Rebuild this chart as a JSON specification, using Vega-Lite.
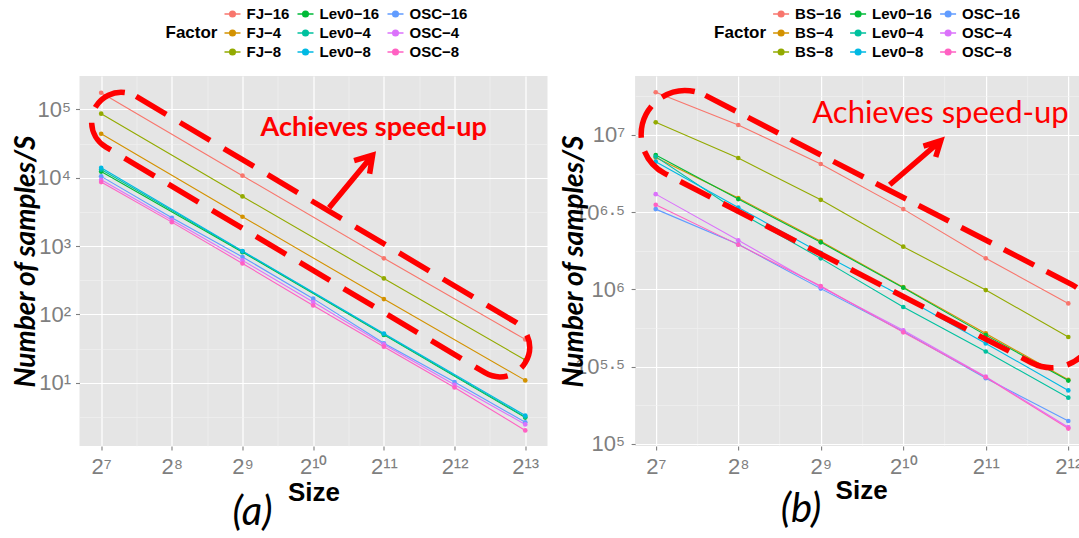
{
  "$schema": "https://vega.github.io/schema/vega-lite/v6.json",
  "background": "white",
  "padding": {"left": 12.5, "top": 5, "right": 0, "bottom": 0},
  "spacing": 12.6,
  "config": {
    "font": "Liberation Sans",
    "view": {"fill": "#E5E5E5", "stroke": null},
    "axis": {
      "domain": false,
      "tickColor": "#7F7F7F",
      "tickSize": 4,
      "tickWidth": 1.1,
      "labelColor": "#7F7F7F",
      "labelFont": "Liberation Sans",
      "labelFontSize": 22,
      "labelOverlap": false,
      "labelPadding": 6,
      "gridColor": "#FFFFFF"
    },
    "legend": {
      "titleOrient": "left",
      "titleFont": "Liberation Sans",
      "titleFontSize": 17,
      "titleFontWeight": "bold",
      "titleColor": "black",
      "titleAnchor": "middle",
      "titleBaseline": "middle",
      "titlePadding": 6,
      "labelFont": "Liberation Sans",
      "labelFontSize": 15,
      "labelFontWeight": "bold",
      "labelColor": "black",
      "labelOffset": 5,
      "symbolType": "M-1,0L1,0M-0.35,0A0.35,0.35,0,1,1,0.35,0A0.35,0.35,0,1,1,-0.35,0Z",
      "symbolSize": 256,
      "symbolStrokeWidth": 1.5,
      "rowPadding": 2,
      "columnPadding": 5
    }
  },
  "datasets": {
    "a": [
      {"series": "FJ-16", "size": 128, "value": 175400},
      {"series": "FJ-16", "size": 512, "value": 10715},
      {"series": "FJ-16", "size": 2048, "value": 660.7},
      {"series": "FJ-16", "size": 8192, "value": 43.05},
      {"series": "FJ-4", "size": 128, "value": 44060},
      {"series": "FJ-4", "size": 512, "value": 2685},
      {"series": "FJ-4", "size": 2048, "value": 167.5},
      {"series": "FJ-4", "size": 8192, "value": 10.81},
      {"series": "FJ-8", "size": 128, "value": 86500},
      {"series": "FJ-8", "size": 512, "value": 5321},
      {"series": "FJ-8", "size": 2048, "value": 335.7},
      {"series": "FJ-8", "size": 8192, "value": 21.48},
      {"series": "Lev0-16", "size": 128, "value": 12300},
      {"series": "Lev0-16", "size": 512, "value": 812.8},
      {"series": "Lev0-16", "size": 2048, "value": 50.1},
      {"series": "Lev0-16", "size": 8192, "value": 3.09},
      {"series": "Lev0-4", "size": 128, "value": 13180},
      {"series": "Lev0-4", "size": 512, "value": 831.8},
      {"series": "Lev0-4", "size": 2048, "value": 51.3},
      {"series": "Lev0-4", "size": 8192, "value": 3.16},
      {"series": "Lev0-8", "size": 128, "value": 14000},
      {"series": "Lev0-8", "size": 512, "value": 845.3},
      {"series": "Lev0-8", "size": 2048, "value": 52.5},
      {"series": "Lev0-8", "size": 8192, "value": 3.31},
      {"series": "OSC-16", "size": 128, "value": 10470},
      {"series": "OSC-16", "size": 256, "value": 2594},
      {"series": "OSC-16", "size": 512, "value": 691.8},
      {"series": "OSC-16", "size": 1024, "value": 169.8},
      {"series": "OSC-16", "size": 2048, "value": 37.67},
      {"series": "OSC-16", "size": 4096, "value": 10.23},
      {"series": "OSC-16", "size": 8192, "value": 2.63},
      {"series": "OSC-4", "size": 128, "value": 9333},
      {"series": "OSC-4", "size": 256, "value": 2399},
      {"series": "OSC-4", "size": 512, "value": 616.6},
      {"series": "OSC-4", "size": 1024, "value": 151.4},
      {"series": "OSC-4", "size": 2048, "value": 36.3},
      {"series": "OSC-4", "size": 4096, "value": 9.33},
      {"series": "OSC-4", "size": 8192, "value": 2.45},
      {"series": "OSC-8", "size": 128, "value": 8650},
      {"series": "OSC-8", "size": 256, "value": 2239},
      {"series": "OSC-8", "size": 512, "value": 555.9},
      {"series": "OSC-8", "size": 1024, "value": 134.9},
      {"series": "OSC-8", "size": 2048, "value": 33.65},
      {"series": "OSC-8", "size": 4096, "value": 8.51},
      {"series": "OSC-8", "size": 8192, "value": 2.0}
    ],
    "b": [
      {"series": "BS-16", "size": 128, "value": 18920000},
      {"series": "BS-16", "size": 256, "value": 11610000},
      {"series": "BS-16", "size": 512, "value": 6486000},
      {"series": "BS-16", "size": 1024, "value": 3311000},
      {"series": "BS-16", "size": 2048, "value": 1589000},
      {"series": "BS-16", "size": 4096, "value": 811000},
      {"series": "BS-4", "size": 128, "value": 7161000},
      {"series": "BS-4", "size": 256, "value": 3908000},
      {"series": "BS-4", "size": 512, "value": 2051000},
      {"series": "BS-4", "size": 1024, "value": 1035000},
      {"series": "BS-4", "size": 2048, "value": 518800},
      {"series": "BS-4", "size": 4096, "value": 260000},
      {"series": "BS-8", "size": 128, "value": 12080000},
      {"series": "BS-8", "size": 256, "value": 7096000},
      {"series": "BS-8", "size": 512, "value": 3802000},
      {"series": "BS-8", "size": 1024, "value": 1892000},
      {"series": "BS-8", "size": 2048, "value": 990800},
      {"series": "BS-8", "size": 4096, "value": 492000},
      {"series": "Lev0-16", "size": 128, "value": 7413000},
      {"series": "Lev0-16", "size": 256, "value": 3846000},
      {"series": "Lev0-16", "size": 512, "value": 2018000},
      {"series": "Lev0-16", "size": 1024, "value": 1026000},
      {"series": "Lev0-16", "size": 2048, "value": 505800},
      {"series": "Lev0-16", "size": 4096, "value": 257000},
      {"series": "Lev0-4", "size": 128, "value": 7244000},
      {"series": "Lev0-4", "size": 256, "value": 3184000},
      {"series": "Lev0-4", "size": 512, "value": 1589000},
      {"series": "Lev0-4", "size": 1024, "value": 769100},
      {"series": "Lev0-4", "size": 2048, "value": 396300},
      {"series": "Lev0-4", "size": 4096, "value": 199100},
      {"series": "Lev0-8", "size": 128, "value": 6714000},
      {"series": "Lev0-8", "size": 256, "value": 3388000},
      {"series": "Lev0-8", "size": 512, "value": 1722000},
      {"series": "Lev0-8", "size": 1024, "value": 893300},
      {"series": "Lev0-8", "size": 2048, "value": 446700},
      {"series": "Lev0-8", "size": 4096, "value": 221800},
      {"series": "OSC-16", "size": 128, "value": 3311000},
      {"series": "OSC-16", "size": 256, "value": 1959000},
      {"series": "OSC-16", "size": 512, "value": 1012000},
      {"series": "OSC-16", "size": 1024, "value": 534600},
      {"series": "OSC-16", "size": 2048, "value": 266100},
      {"series": "OSC-16", "size": 4096, "value": 140600},
      {"series": "OSC-4", "size": 128, "value": 4140000},
      {"series": "OSC-4", "size": 256, "value": 2080000},
      {"series": "OSC-4", "size": 512, "value": 1035000},
      {"series": "OSC-4", "size": 1024, "value": 543300},
      {"series": "OSC-4", "size": 2048, "value": 272300},
      {"series": "OSC-4", "size": 4096, "value": 128200},
      {"series": "OSC-8", "size": 128, "value": 3532000},
      {"series": "OSC-8", "size": 256, "value": 1950000},
      {"series": "OSC-8", "size": 512, "value": 1052000},
      {"series": "OSC-8", "size": 1024, "value": 527200},
      {"series": "OSC-8", "size": 2048, "value": 269800},
      {"series": "OSC-8", "size": 4096, "value": 125600}
    ]
  },
  "resolve": {"scale": {"x": "independent", "y": "independent", "color": "independent"}},
  "hconcat": [
    {
      "width": 468,
      "height": 370,
      "title": {"text": "(a)", "orient": "bottom", "anchor": "middle", "frame": "group", "dx": -61, "offset": -13, "font": "Lato", "fontStyle": "italic", "fontWeight": "normal", "fontSize": 40, "color": "black"},
      "encoding": {
        "x": {"field": "size", "type": "quantitative", "title": "Size",
          "scale": {"type": "log", "base": 2, "domain": [103.5, 10190], "nice": false},
          "axis": {
            "values": [128, 181.02, 256, 362.04, 512, 724.08, 1024, 1448.15, 2048, 2896.31, 4096, 5792.62, 8192],
            "labelExpr": "round(log(datum.value)/LN2*2) % 2 == 1 ? '' : ['2⁷','2⁸','2⁹','2¹⁰','2¹¹','2¹²','2¹³'][round(log(datum.value)/LN2) - 7]",
            "gridColor": {"condition": {"test": "round(log(datum.value)/LN2*2) % 2 == 1", "value": "#F2F2F2"}, "value": "#FFFFFF"},
            "gridWidth": {"condition": {"test": "round(log(datum.value)/LN2*2) % 2 == 1", "value": 0.6}, "value": 1.2},
            "tickOpacity": {"condition": {"test": "round(log(datum.value)/LN2*2) % 2 == 1", "value": 0}, "value": 1},
            "titleFont": "Liberation Sans", "titleFontWeight": "bold", "titleFontSize": 26, "titleColor": "black",
            "titleBaseline": "alphabetic", "titleX": 234, "titleY": 54.7
          }
        },
        "y": {"field": "value", "type": "quantitative", "title": "Number of samples/S",
          "scale": {"type": "log", "domain": [1.184, 308300], "nice": false},
          "axis": {
            "values": [3.1623, 10, 31.623, 100, 316.23, 1000, 3162.3, 10000, 31623, 100000],
            "labelExpr": "round(log(datum.value)/LN10*2) % 2 == 1 ? '' : ['10¹','10²','10³','10⁴','10⁵'][round(log(datum.value)/LN10) - 1]",
            "labelPadding": 5,
            "gridColor": {"condition": {"test": "round(log(datum.value)/LN10*2) % 2 == 1", "value": "#F2F2F2"}, "value": "#FFFFFF"},
            "gridWidth": {"condition": {"test": "round(log(datum.value)/LN10*2) % 2 == 1", "value": 0.6}, "value": 1.2},
            "tickOpacity": {"condition": {"test": "round(log(datum.value)/LN10*2) % 2 == 1", "value": 0}, "value": 1},
            "titleFont": "Lato", "titleFontWeight": "bold", "titleFontStyle": "italic", "titleFontSize": 28, "titleColor": "black",
            "titleBaseline": "alphabetic", "titleX": -45
          }
        }
      },
      "layer": [
        {
          "data": {"name": "a"},
          "mark": {"type": "line", "strokeWidth": 1.1},
          "encoding": {
            "color": {"field": "series", "type": "nominal", "sort": null,
              "scale": {"domain": ["FJ-16", "FJ-4", "FJ-8", "Lev0-16", "Lev0-4", "Lev0-8", "OSC-16", "OSC-4", "OSC-8"],
                "range": ["#F8766D", "#D39200", "#93AA00", "#00BA38", "#00C19F", "#00B9E3", "#619CFF", "#DB72FB", "#FF61C3"]},
              "legend": {"title": "Factor", "orient": "none", "legendX": 86, "legendY": -71, "columns": 3, "labelExpr": "replace(datum.label, '-', '−')"}
            }
          }
        },
        {
          "data": {"name": "a"},
          "mark": {"type": "point", "filled": true, "size": 22, "opacity": 1},
          "encoding": {
            "color": {"field": "series", "type": "nominal", "sort": null,
              "scale": {"domain": ["FJ-16", "FJ-4", "FJ-8", "Lev0-16", "Lev0-4", "Lev0-8", "OSC-16", "OSC-4", "OSC-8"],
                "range": ["#F8766D", "#D39200", "#93AA00", "#00BA38", "#00C19F", "#00B9E3", "#619CFF", "#DB72FB", "#FF61C3"]}
            }
          }
        },
        {
          "data": {"values": [{"size": 998, "value": 1474}]},
          "mark": {"type": "point", "shape": "M-220.5,-29.5L220.5,-29.5A29.5,29.5,0,0,1,220.5,29.5L-220.5,29.5A29.5,29.5,0,0,1,-220.5,-29.5Z", "size": 4, "angle": 30.76, "filled": false, "stroke": "#FF0000", "strokeWidth": 5.5, "strokeDash": [35, 16], "opacity": 1},
          "encoding": {}
        },
        {
          "data": {"values": [{"size": 1197, "value": 3639}]},
          "mark": {"type": "point", "shape": "M0,0L43.5,-52.5M25,-47L43.5,-52.5L40.5,-34", "size": 4, "filled": false, "stroke": "#FF0000", "strokeWidth": 5.5, "strokeJoin": "miter", "opacity": 1},
          "encoding": {}
        },
        {
          "data": {"values": [{"size": 1853, "value": 40790, "label": "Achieves speed-up"}]},
          "mark": {"type": "text", "font": "Lato", "fontWeight": "bold", "fontSize": 27, "color": "#FF0000", "align": "center", "baseline": "alphabetic"},
          "encoding": {"text": {"field": "label"}}
        }
      ]
    },
    {
      "width": 444,
      "height": 370,
      "title": {"text": "(b)", "orient": "bottom", "anchor": "middle", "frame": "group", "dx": -56, "offset": -13, "font": "Lato", "fontStyle": "italic", "fontWeight": "normal", "fontSize": 40, "color": "black"},
      "encoding": {
        "x": {"field": "size", "type": "quantitative", "title": "Size",
          "scale": {"type": "log", "base": 2, "domain": [107.63, 4485], "nice": false},
          "axis": {
            "values": [128, 181.02, 256, 362.04, 512, 724.08, 1024, 1448.15, 2048, 2896.31, 4096],
            "labelExpr": "round(log(datum.value)/LN2*2) % 2 == 1 ? '' : ['2⁷','2⁸','2⁹','2¹⁰','2¹¹','2¹²'][round(log(datum.value)/LN2) - 7]",
            "gridColor": {"condition": {"test": "round(log(datum.value)/LN2*2) % 2 == 1", "value": "#F2F2F2"}, "value": "#FFFFFF"},
            "gridWidth": {"condition": {"test": "round(log(datum.value)/LN2*2) % 2 == 1", "value": 0.6}, "value": 1.2},
            "tickOpacity": {"condition": {"test": "round(log(datum.value)/LN2*2) % 2 == 1", "value": 0}, "value": 1},
            "titleFont": "Liberation Sans", "titleFontWeight": "bold", "titleFontSize": 26, "titleColor": "black",
            "titleBaseline": "alphabetic", "titleX": 226, "titleY": 52
          }
        },
        "y": {"field": "value", "type": "quantitative", "title": "Number of samples/S",
          "scale": {"type": "log", "domain": [96828, 24099000], "nice": false},
          "axis": {
            "values": [100000, 177828, 316228, 562341, 1000000, 1778279, 3162278, 5623413, 10000000, 17782794],
            "labelExpr": "round(log(datum.value)/LN10*4) % 2 == 1 ? '' : ['10⁵','10⁵·⁵','10⁶','10⁶·⁵','10⁷'][round(log(datum.value)/LN10*2) - 10]",
            "labelPadding": 6.5,
            "gridColor": {"condition": {"test": "round(log(datum.value)/LN10*4) % 2 == 1", "value": "#F2F2F2"}, "value": "#FFFFFF"},
            "gridWidth": {"condition": {"test": "round(log(datum.value)/LN10*4) % 2 == 1", "value": 0.6}, "value": 1.2},
            "tickOpacity": {"condition": {"test": "round(log(datum.value)/LN10*4) % 2 == 1", "value": 0}, "value": 1},
            "titleFont": "Lato", "titleFontWeight": "bold", "titleFontStyle": "italic", "titleFontSize": 28, "titleColor": "black",
            "titleBaseline": "alphabetic", "titleX": -52.3
          }
        }
      },
      "layer": [
        {
          "data": {"name": "b"},
          "mark": {"type": "line", "strokeWidth": 1.1},
          "encoding": {
            "color": {"field": "series", "type": "nominal", "sort": null,
              "scale": {"domain": ["BS-16", "BS-4", "BS-8", "Lev0-16", "Lev0-4", "Lev0-8", "OSC-16", "OSC-4", "OSC-8"],
                "range": ["#F8766D", "#D39200", "#93AA00", "#00BA38", "#00C19F", "#00B9E3", "#619CFF", "#DB72FB", "#FF61C3"]},
              "legend": {"title": "Factor", "orient": "none", "legendX": 79, "legendY": -71, "columns": 3, "labelExpr": "replace(datum.label, '-', '−')"}
            }
          }
        },
        {
          "data": {"name": "b"},
          "mark": {"type": "point", "filled": true, "size": 22, "opacity": 1},
          "encoding": {
            "color": {"field": "series", "type": "nominal", "sort": null,
              "scale": {"domain": ["BS-16", "BS-4", "BS-8", "Lev0-16", "Lev0-4", "Lev0-8", "OSC-16", "OSC-4", "OSC-8"],
                "range": ["#F8766D", "#D39200", "#93AA00", "#00BA38", "#00C19F", "#00B9E3", "#619CFF", "#DB72FB", "#FF61C3"]}
            }
          }
        },
        {
          "data": {"values": [{"size": 764.5, "value": 2458000}]},
          "mark": {"type": "point", "shape": "M-206.3,-44L206.3,-44A44,44,0,0,1,206.3,44L-206.3,44A44,44,0,0,1,-206.3,-44Z", "size": 4, "angle": 27.3, "filled": false, "stroke": "#FF0000", "strokeWidth": 5.5, "strokeDash": [34, 14], "opacity": 1, "clip": true},
          "encoding": {}
        },
        {
          "data": {"values": [{"size": 914, "value": 4764000}]},
          "mark": {"type": "point", "shape": "M0,0L51,-44M33.7,-38.7L51,-44L46,-27.7", "size": 4, "filled": false, "stroke": "#FF0000", "strokeWidth": 5.5, "strokeJoin": "miter", "opacity": 1, "clip": true},
          "encoding": {}
        },
        {
          "data": {"values": [{"size": 1400, "value": 12015000, "label": "Achieves speed-up"}]},
          "mark": {"type": "text", "font": "Lato", "fontWeight": "normal", "fontSize": 31, "color": "#FF0000", "align": "center", "baseline": "alphabetic", "clip": true},
          "encoding": {"text": {"field": "label"}}
        }
      ]
    }
  ]
}
